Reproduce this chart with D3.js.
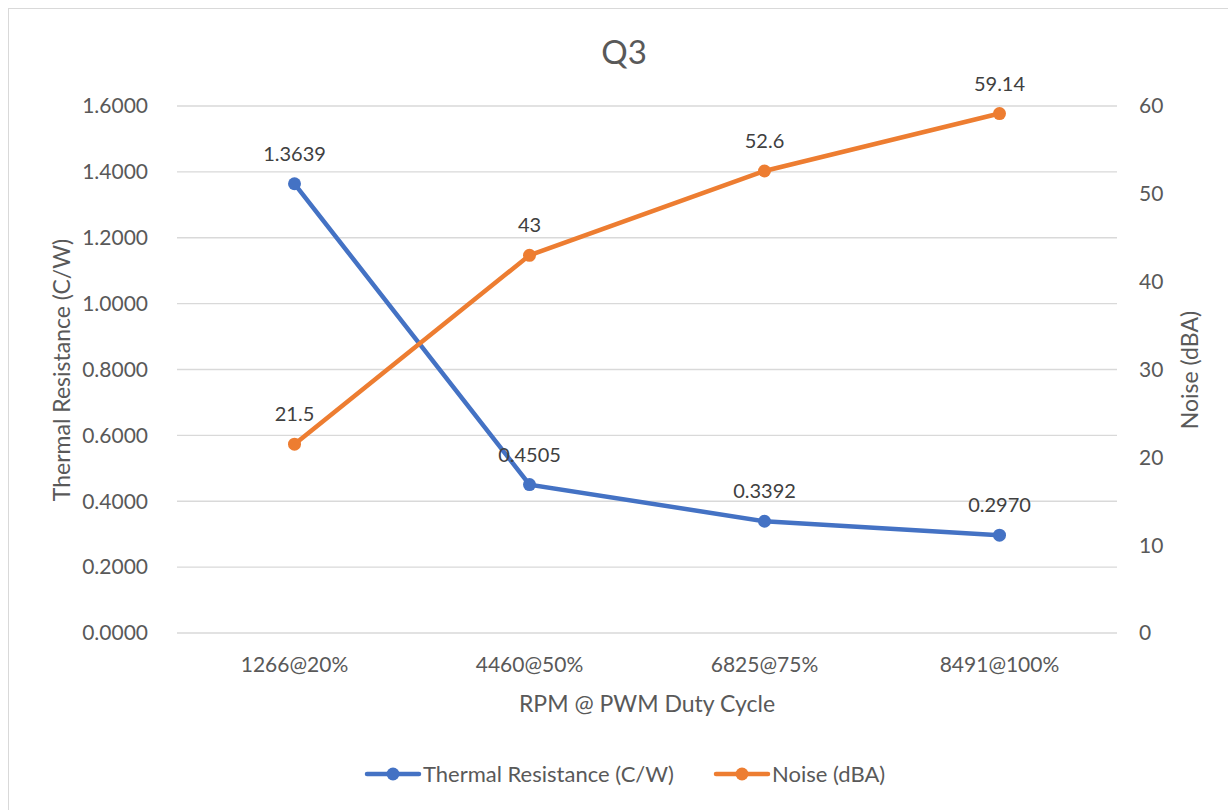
<!DOCTYPE html>
<html><head><meta charset="utf-8">
<script src="https://cdn.jsdelivr.net/npm/d3@7"></script>
<style>body{margin:0;background:#fff;} text{font-family:Lato,"Open Sans",sans-serif;fill:#595959;}</style>
</head><body>
<svg id="c" width="1228" height="810"></svg>
<script>
const categories = ["1266@20%","4460@50%","6825@75%","8491@100%"];
const thermal = [1.3639, 0.4505, 0.3392, 0.2970];
const thermalLabels = ["1.3639","0.4505","0.3392","0.2970"];
const noise = [21.5, 43, 52.6, 59.14];
const noiseLabels = ["21.5","43","52.6","59.14"];
const leftTicks = [0,0.2,0.4,0.6,0.8,1.0,1.2,1.4,1.6];
const rightTicks = [0,10,20,30,40,50,60];

const svg = d3.select("#c");
svg.append("rect").attr("x",8.5).attr("y",8.5).attr("width",1230).attr("height",820).attr("fill","#fff").attr("stroke","#d9d9d9");
const L=177,R=1117,T=106,B=633;
const x = d3.scaleBand().domain(categories).range([L,R]);
const yL = d3.scaleLinear().domain([0,1.6]).range([B,T]);
const yR = d3.scaleLinear().domain([0,60]).range([B,T]);
const blue="#4472c4", orange="#ed7d31";

svg.append("g").selectAll("line").data(leftTicks).join("line")
 .attr("x1",L).attr("x2",R).attr("y1",d=>yL(d)).attr("y2",d=>yL(d))
 .attr("stroke","#d9d9d9").attr("stroke-width",1.3);

svg.append("g").selectAll("text").data(leftTicks).join("text")
 .attr("x",148).attr("y",d=>yL(d)).attr("dy","0.35em").attr("text-anchor","end")
 .attr("font-size",21).text(d=>d3.format(".4f")(d));
svg.append("g").selectAll("text").data(rightTicks).join("text")
 .attr("x",1139).attr("y",d=>yR(d)).attr("dy","0.35em").attr("text-anchor","start")
 .attr("font-size",21).text(d=>d);
svg.append("g").selectAll("text").data(categories).join("text")
 .attr("x",d=>x(d)+x.bandwidth()/2).attr("y",665).attr("dy","0.35em").attr("text-anchor","middle")
 .attr("font-size",21).text(d=>d);

svg.append("text").attr("x",624).attr("y",52).attr("dy","0.35em").attr("text-anchor","middle").attr("font-size",33).text("Q3");
svg.append("text").attr("x",647).attr("y",704).attr("dy","0.35em").attr("text-anchor","middle").attr("font-size",23).text("RPM @ PWM Duty Cycle");
svg.append("text").attr("transform","translate(62,370) rotate(-90)").attr("dy","0.35em").attr("text-anchor","middle").attr("font-size",23).text("Thermal Resistance (C/W)");
svg.append("text").attr("transform","translate(1190,370) rotate(-90)").attr("dy","0.35em").attr("text-anchor","middle").attr("font-size",23).text("Noise (dBA)");

const cx = d=>x(d)+x.bandwidth()/2;
function series(vals, y, col, labels){
  const line = d3.line().x((d,i)=>cx(categories[i])).y(d=>y(d));
  svg.append("path").datum(vals).attr("d",line).attr("fill","none").attr("stroke",col).attr("stroke-width",4.5).attr("stroke-linecap","round");
  svg.append("g").selectAll("circle").data(vals).join("circle")
   .attr("cx",(d,i)=>cx(categories[i])).attr("cy",d=>y(d)).attr("r",6.5).attr("fill",col);
  svg.append("g").selectAll("text").data(vals).join("text")
   .attr("x",(d,i)=>cx(categories[i])).attr("y",d=>y(d)-30).attr("dy","0.35em").attr("text-anchor","middle")
   .attr("font-size",20).style("fill","#404040").text((d,i)=>labels[i]);
}
series(thermal,yL,blue,thermalLabels);
series(noise,yR,orange,noiseLabels);

const leg=[{t:"Thermal Resistance (C/W)",c:blue,x:367},{t:"Noise (dBA)",c:orange,x:716}];
leg.forEach(l=>{
  svg.append("line").attr("x1",l.x).attr("x2",l.x+52).attr("y1",774).attr("y2",774).attr("stroke",l.c).attr("stroke-width",4.5).attr("stroke-linecap","round");
  svg.append("circle").attr("cx",l.x+26).attr("cy",774).attr("r",6.5).attr("fill",l.c);
  svg.append("text").attr("x",l.x+56).attr("y",774).attr("dy","0.35em").attr("font-size",22).text(l.t);
});
</script>
</body></html>
